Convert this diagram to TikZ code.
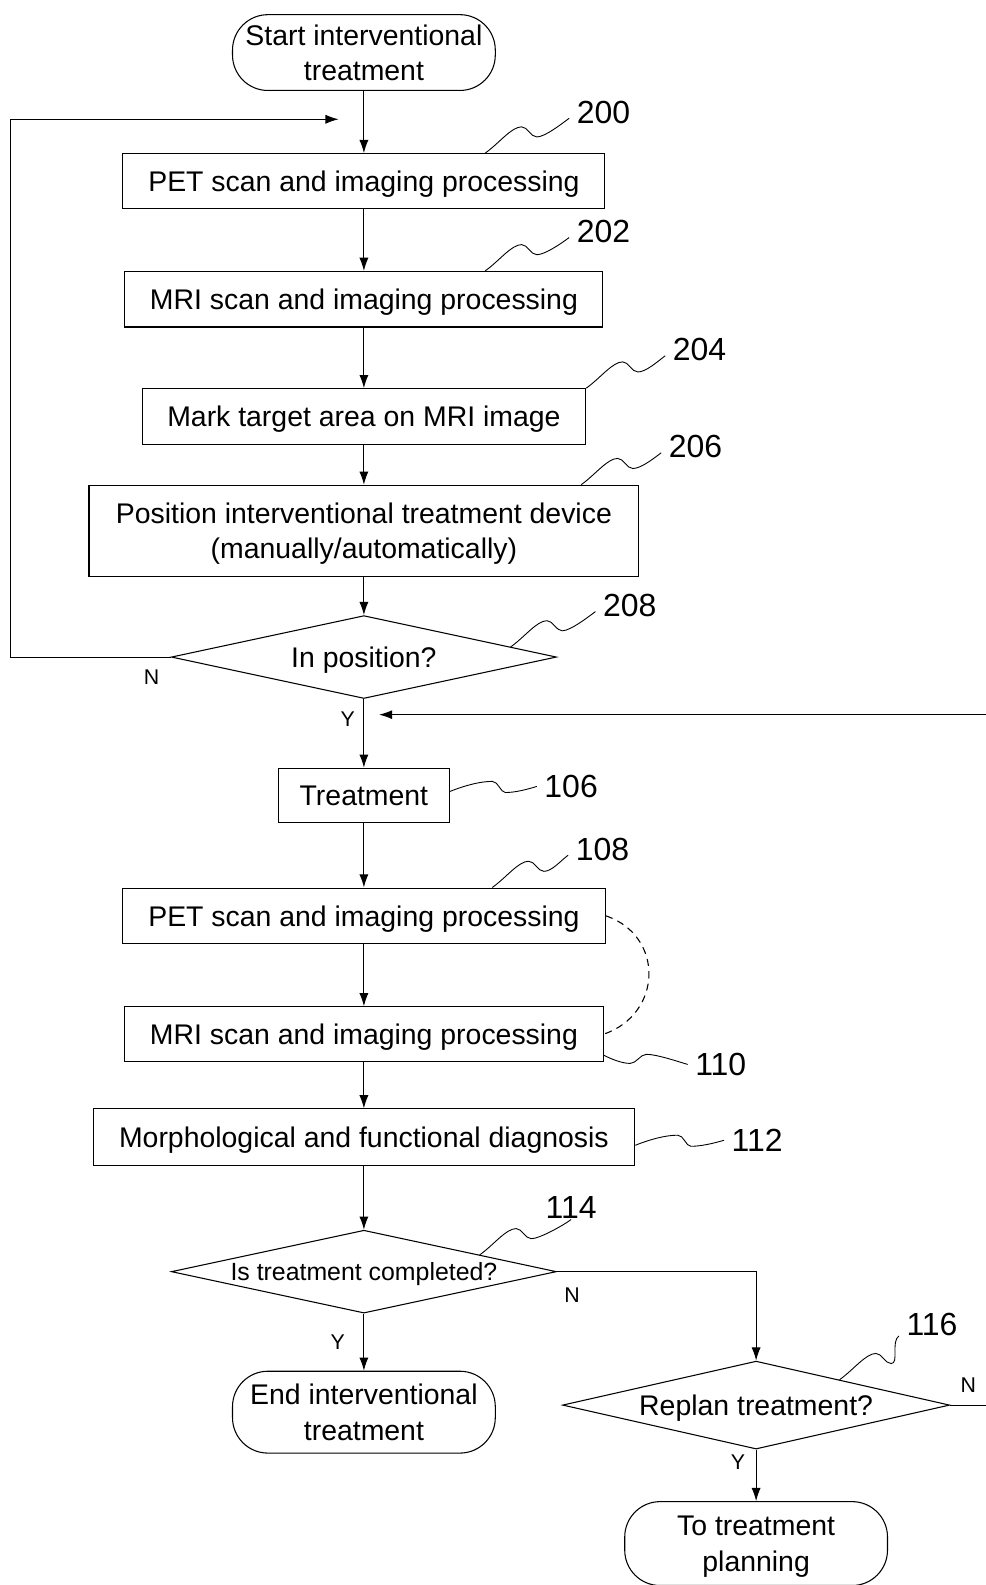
\documentclass[tikz,border=0pt]{standalone}
\usepackage{fontspec}
\setmainfont{Liberation Sans}
\usetikzlibrary{shapes.geometric,arrows.meta,calc}

\newcommand{\boxfont}{\fontsize{16}{20}\selectfont}
\newcommand{\askfont}{\fontsize{14}{17}\selectfont}
\newcommand{\numfont}{\fontsize{18}{20}\selectfont}
\newcommand{\ynfont}{\fontsize{12}{14}\selectfont}

\begin{document}
\begin{tikzpicture}[x=0.02cm, y=-0.02cm, line width=0.6pt,
    every node/.style={font=\boxfont, align=center, inner sep=0pt, text depth=0pt},
    proc/.style={draw, rectangle, minimum height=1.1cm},
    term/.style={draw, rectangle, rounded corners=0.7cm, minimum width=5.2cm},
    decide/.style={draw, diamond, aspect=4.7, minimum width=7.62cm, minimum height=1.64cm},
    num/.style={font=\numfont, inner xsep=4pt, inner ysep=0pt},
    yn/.style={font=\ynfont},
    arr/.style={-{Latex[length=2.6mm,width=1.8mm]}},
    lead/.style={line width=0.5pt}]
  \useasboundingbox (0,0) rectangle (975,1568);

  % main column
  \node[term, minimum height=1.5cm] (start) at (360,52) {Start interventional\\treatment};
  \node[proc, minimum width=9.54cm, minimum height=1.08cm] (b200) at (360,179) {PET scan and imaging processing};
  \node[proc, minimum width=9.46cm] (b202) at (360,296) {MRI scan and imaging processing};
  \node[proc, minimum width=8.78cm] (b204) at (360,412) {Mark target area on MRI image};
  \node[proc, minimum width=10.88cm, minimum height=1.8cm] (b206) at (360,525) {Position interventional treatment device\\(manually/automatically)};
  \node[decide] (d208) at (360,650) {In position?};
  \node[proc, minimum width=3.38cm, minimum height=1.08cm] (treat) at (360,787) {Treatment};
  \node[proc, minimum width=9.56cm] (b108) at (360,906) {PET scan and imaging processing};
  \node[proc, minimum width=9.48cm, minimum height=1.08cm] (b110) at (360,1023) {MRI scan and imaging processing};
  \node[proc, minimum width=10.72cm, minimum height=1.12cm] (b112) at (360,1125) {Morphological and functional diagnosis};
  \node[decide, font=\askfont] (d114) at (360,1258) {Is treatment completed?};
  \node[term, minimum height=1.62cm] (stop) at (360,1397) {End interventional\\treatment};
  \node[decide, aspect=4.4, minimum width=7.66cm, minimum height=1.74cm] (d116) at (748,1390) {Replan treatment?};
  \node[term, minimum height=1.66cm] (plan) at (748,1527) {To treatment\\planning};

  % reference numbers
  \node[num] (n200) at (597,111) {200};
  \node[num] (n202) at (597,229) {202};
  \node[num] (n204) at (692,346) {204};
  \node[num] (n206) at (688,442) {206};
  \node[num] (n208) at (623,599) {208};
  \node[num] (n106) at (565,778) {106};
  \node[num] (n108) at (596,840) {108};
  \node[num] (n110) at (713,1053) {110};
  \node[num] (n112) at (749,1128) {112};
  \node[num] (n114) at (565,1195) {114};
  \node[num] (n116) at (922,1310) {116};

  % Y / N
  \node[yn] (y208n) at (150,670) {N};
  \node[yn] (y208y) at (344,711) {Y};
  \node[yn] (y114n) at (566,1281) {N};
  \node[yn] (y114y) at (334,1328) {Y};
  \node[yn] (y116n) at (958,1370) {N};
  \node[yn] (y116y) at (730,1446) {Y};

  % flow
  \foreach \a/\b in {start/b200, b200/b202, b202/b204, b204/b206, b206/d208,
                     d208/treat, treat/b108, b108/b110, b110/b112, b112/d114,
                     d114/stop, d116/plan}
    \draw[arr] (\a.south) -- (\b.north);

  \coordinate (loopc) at (10,118);
  \coordinate (loopin) at (335,118);
  \draw[arr] (d208.west) -| (loopc) -- (loopin);

  \coordinate (backin) at (975,707);
  \coordinate (backtip) at (375,707);
  \draw[arr] (backin) -- (backtip);

  \draw[arr] (d114.east) -| (d116.north);
  \coordinate (replanout) at (975,1390);
  \draw (d116.east) -- (replanout);

  \draw[dash pattern=on 4pt off 3pt] (b108.east) .. controls +(58,20) and +(58,-20) .. (b110.east);

  % leader lines
  \coordinate (s200) at (b200.north -| 480,0);
  \coordinate (s202) at (b202.north -| 480,0);
  \coordinate (s204) at (b204.north east);
  \coordinate (s206) at (b206.north -| 575,0);
  \coordinate (s208) at ($(d208.north)!.76!(d208.east)$);
  \coordinate (s106) at (treat.east |- 0,783);
  \coordinate (s108) at (b108.north -| 487,0);
  \coordinate (s110) at (b110.east |- 0,1044);
  \coordinate (s112) at (b112.east |- 0,1133);
  \coordinate (s114) at ($(d114.north)!.6!(d114.east)$);
  \coordinate (s116) at ($(d116.north)!.43!(d116.east)$);

  \foreach \n/\a in {200/190, 202/190, 204/190, 206/190, 208/190, 108/190, 114/south, 116/south west}
    \draw[lead] (s\n) .. controls +(14,-10) and +(-10,0) .. ++(36,-26)
      .. controls +(6,0) and +(-6,0) .. ++(15,10)
      .. controls +(8,0) and +(-8,6) .. (n\n.\a);
  \foreach \n in {106,112}
    \draw[lead] (s\n) .. controls +(15,-6) and +(-12,0) .. ++(42,-10)
      .. controls +(6,0) and +(-5,0) .. ++(13,11)
      .. controls +(10,0) and +(-10,3) .. (n\n.west);
  \draw[lead] (s110) .. controls +(8,4) and +(-8,0) .. ++(26,8)
    .. controls +(6,0) and +(-6,0) .. ++(16,-9)
    .. controls +(10,0) and +(-10,-3) .. (n110.west);
\end{tikzpicture}
\end{document}
